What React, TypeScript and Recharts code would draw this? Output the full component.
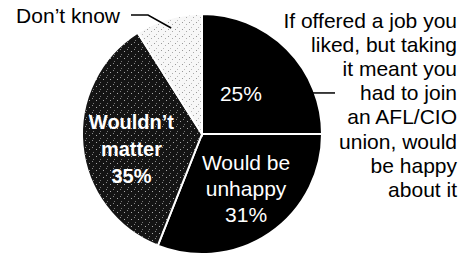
import React from 'react';
import { PieChart, Pie, Cell } from 'recharts';

// Survey answers, clockwise from 12 o'clock
const answers = ['Would be happy', 'Would be unhappy', 'Wouldn’t matter', 'Don’t know'];
const shares = [25, 31, 35, 9];
const insideLines = [['25%'], ['Would be', 'unhappy', '31%'], ['Wouldn’t', 'matter', '35%'], []];
const questionLines = [
  'If offered a job you',
  'liked, but taking',
  'it meant you',
  'had to join',
  'an AFL/CIO',
  'union, would',
  'be happy',
  'about it',
];
const outsideLabel = 'Don’t know';

const fills = ['#000', '#000', 'url(#stippleDark)', 'url(#stippleLight)'];
const bold = [false, false, true, false];
// where each inside label sits: radius (px) and angle (deg) from the pie center
const labelSpots = [
  { r: 56, a: 46 },
  { r: 70, a: -51 },
  { r: 72, a: -168.5 },
];

const data = answers.map((name, i) => ({ name, value: shares[i] }));
const FONT = '"Liberation Sans", Arial, Helvetica, sans-serif';
const RAD = Math.PI / 180;

function renderLabel(props: any) {
  const { cx, cy, outerRadius, index, midAngle } = props;
  if (index === 3) {
    // "Don't know" callout with a bent leader
    const ex = cx + outerRadius * 0.92 * Math.cos(midAngle * RAD);
    const ey = cy - outerRadius * 0.92 * Math.sin(midAngle * RAD);
    return (
      <g>
        <text x={120} y={23} textAnchor="end" fontSize={21} fontFamily={FONT} fill="#000">
          {outsideLabel}
        </text>
        <polyline points={`131,15 148,15 ${ex},${ey}`} fill="none" stroke="#000" strokeWidth={1.5} />
      </g>
    );
  }
  const spot = labelSpots[index];
  const lines = insideLines[index];
  const lh = index === 2 ? 27 : 26;
  const x = cx + spot.r * Math.cos(spot.a * RAD);
  const midY = cy - spot.r * Math.sin(spot.a * RAD);
  const firstBase = midY + 7.5 - ((lines.length - 1) * lh) / 2;
  const inside = (
    <text
      textAnchor="middle"
      fontSize={bold[index] ? 20 : 21}
      fontWeight={bold[index] ? 'bold' : 'normal'}
      fontFamily={FONT}
      fill="#fff"
    >
      {lines.map((t, i) => (
        <tspan key={i} x={x} y={firstBase + i * lh}>
          {t}
        </tspan>
      ))}
    </text>
  );
  if (index !== 0) return inside;
  // question caption on the right, tied to the "happy" slice
  const a = 20 * RAD;
  const sx = cx + outerRadius * Math.cos(a);
  const sy = cy - outerRadius * Math.sin(a);
  return (
    <g>
      {inside}
      <line x1={sx - 2} y1={sy} x2={335} y2={sy} stroke="#000" strokeWidth={1.5} />
      <text textAnchor="end" fontSize={21} fontFamily={FONT} fill="#000">
        {questionLines.map((t, i) => (
          <tspan key={i} x={457} y={28 + i * 24.1}>
            {t}
          </tspan>
        ))}
      </text>
    </g>
  );
}

export default function App() {
  return (
    <div style={{ position: 'absolute', left: 0, top: 0, background: '#fff' }}>
      <PieChart width={471} height={256} margin={{ top: 0, right: 0, bottom: 0, left: 0 }}>
        <defs>
          <pattern id="stippleDark" width="7" height="7" patternUnits="userSpaceOnUse">
            <rect width="7" height="7" fill="#141414" />
            <rect x="1" y="0" width="1" height="1" fill="#888" />
            <rect x="5" y="2" width="1" height="1" fill="#aaa" />
            <rect x="2" y="5" width="1" height="1" fill="#777" />
          </pattern>
          <pattern id="stippleLight" width="7" height="7" patternUnits="userSpaceOnUse">
            <rect width="7" height="7" fill="#f7f7f7" />
            <rect x="0" y="1" width="1" height="1" fill="#999" />
            <rect x="4" y="3" width="1" height="1" fill="#aaa" />
            <rect x="2" y="6" width="1" height="1" fill="#bbb" />
          </pattern>
        </defs>
        <Pie
          data={data}
          dataKey="value"
          nameKey="name"
          cx={202}
          cy={134}
          outerRadius={120}
          startAngle={90}
          endAngle={-270}
          stroke="#fff"
          strokeWidth={2}
          label={renderLabel}
          labelLine={false}
          isAnimationActive={false}
        >
          {data.map((d, i) => (
            <Cell key={d.name} fill={fills[i]} />
          ))}
        </Pie>
      </PieChart>
    </div>
  );
}
